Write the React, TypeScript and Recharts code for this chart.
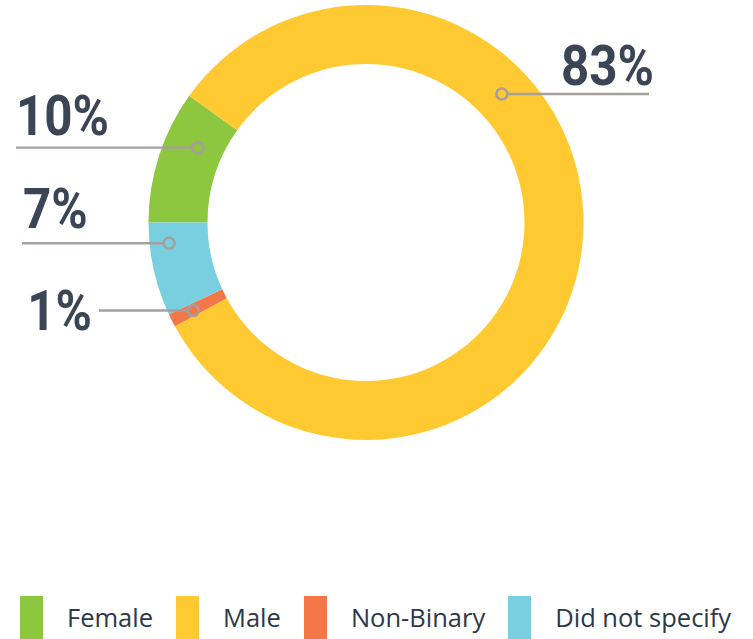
import { PieChart, Pie, Cell } from 'recharts';

// legend order (also clockwise order around the ring, starting at 9 o'clock)
const categories = ['Female', 'Male', 'Non-Binary', 'Did not specify'];
const shares = [10, 83, 1, 7];
const labels = ['10%', '83%', '1%', '7%'];
const colors = ['#8dc63f', '#ffca31', '#f47748', '#79cfe0'];

const data = categories.map((name, i) => ({ name, value: shares[i], label: labels[i] }));

// where each callout sits (angle on the ring, horizontal leader line, text placement)
const callouts = [
    { angle: 156, r: 184, lineTo: 16, textX: 16, textDy: -13, anchor: 'start' },
    { angle: 43.4, r: 187, lineTo: 649, textX: 654, textDy: -9, anchor: 'end' },
    { angle: 207, r: 194, lineTo: 99, textX: 92, textDy: 19, anchor: 'end' },
    { angle: 186, r: 198, lineTo: 22, textX: 23, textDy: -15, anchor: 'start' },
];

const RAD = Math.PI / 180;

const renderCallout = (props: any) => {
    const { cx, cy, index } = props;
    const c = callouts[index];
    const px = cx + c.r * Math.cos(c.angle * RAD);
    const py = cy - c.r * Math.sin(c.angle * RAD);
    const dir = c.lineTo < px ? -1 : 1;
    return (
        <g key={`callout-${index}`}>
            <line x1={px + dir * 5.5} y1={py} x2={c.lineTo} y2={py} stroke="#a59f9d" strokeWidth={2.4} />
            <circle cx={px} cy={py} r={5.5} fill="none" stroke="#a59f9d" strokeWidth={2.6} />
            <text
                transform={`translate(${c.textX},${py + c.textDy}) scale(0.88,1)`}
                textAnchor={c.anchor}
                fontFamily="Roboto"
                fontWeight={700}
                fontSize={56}
                fill="#3b4555"
            >
                {data[index].label}
            </text>
        </g>
    );
};

const App = () => {
    return (
        <div style={{ position: 'absolute', left: 0, top: 0, width: 753, height: 639, background: '#fff', overflow: 'hidden' }}>
            <PieChart width={753} height={580} margin={{ top: 0, right: 0, bottom: 0, left: 0 }}>
                <Pie
                    data={data}
                    dataKey="value"
                    cx={366}
                    cy={222.5}
                    innerRadius={158.5}
                    outerRadius={217.5}
                    startAngle={180}
                    endAngle={-180}
                    stroke="none"
                    label={renderCallout}
                    labelLine={false}
                    isAnimationActive={false}
                >
                    {data.map((d, i) => (
                        <Cell key={d.name} fill={colors[i]} />
                    ))}
                </Pie>
            </PieChart>
            <div style={{ position: 'absolute', left: 20, top: 596, display: 'flex', gap: 23, fontFamily: '"Open Sans"', fontSize: 25.5, color: '#2d3848' }}>
                {categories.map((name, i) => (
                    <div key={name} style={{ display: 'flex', alignItems: 'flex-start', gap: 24 }}>
                        <div style={{ width: 23, height: 50, background: colors[i] }} />
                        <span style={{ lineHeight: '42px' }}>{name}</span>
                    </div>
                ))}
            </div>
        </div>
    );
};

export default App;
